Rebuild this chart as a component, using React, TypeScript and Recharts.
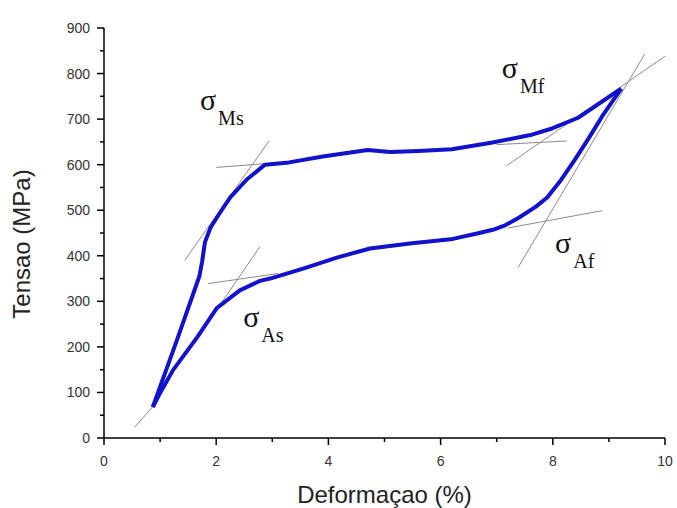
import React from 'react';
import { ComposedChart, Line, Scatter, XAxis, YAxis } from 'recharts';

// Strain (%) vs stress (MPa) hysteresis loop
const loading = [
  { x: 0.87, y: 68 }, { x: 1.3, y: 215 }, { x: 1.7, y: 355 }, { x: 1.75, y: 388 },
  { x: 1.8, y: 430 }, { x: 1.9, y: 462 }, { x: 2.07, y: 495 }, { x: 2.25, y: 528 },
  { x: 2.55, y: 568 }, { x: 2.87, y: 600 }, { x: 3.3, y: 605 }, { x: 3.9, y: 618 },
  { x: 4.7, y: 632 }, { x: 5.1, y: 628 }, { x: 5.6, y: 630 }, { x: 6.2, y: 634 },
  { x: 6.9, y: 648 }, { x: 7.6, y: 665 }, { x: 8.0, y: 680 }, { x: 8.45, y: 703 },
  { x: 9.22, y: 767 },
];
const unloading = [
  { x: 9.22, y: 767 }, { x: 8.9, y: 710 }, { x: 8.65, y: 660 }, { x: 8.4, y: 612 },
  { x: 8.15, y: 567 }, { x: 7.9, y: 528 }, { x: 7.7, y: 508 }, { x: 7.4, y: 484 },
  { x: 7.15, y: 467 }, { x: 6.93, y: 457 }, { x: 6.65, y: 449 }, { x: 6.22, y: 437 },
  { x: 5.45, y: 427 }, { x: 4.74, y: 416 }, { x: 4.15, y: 396 }, { x: 3.55, y: 372 },
  { x: 2.96, y: 350 }, { x: 2.78, y: 345 }, { x: 2.42, y: 324 }, { x: 2.01, y: 285 },
  { x: 1.66, y: 221 }, { x: 1.23, y: 149 }, { x: 1.0, y: 99 }, { x: 0.87, y: 68 },
];

// Thin construction (tangent) lines
const tangentElastic = [{ x: 0.55, y: 24 }, { x: 0.95, y: 80 }];
const tangentMsSteep = [{ x: 1.44, y: 390 }, { x: 2.94, y: 652 }];
const tangentMsFlat = [{ x: 2.0, y: 594 }, { x: 3.4, y: 607 }];
const tangentMfFlat = [{ x: 7.0, y: 644 }, { x: 8.25, y: 652 }];
const tangentMfSteep = [{ x: 7.18, y: 598 }, { x: 10.0, y: 838 }];
const tangentAfSteep = [{ x: 7.38, y: 374 }, { x: 9.64, y: 843 }];
const tangentAfFlat = [{ x: 7.2, y: 461 }, { x: 8.88, y: 499 }];
const tangentAsFlat = [{ x: 1.86, y: 339 }, { x: 3.1, y: 361 }];
const tangentAsSteep = [{ x: 2.1, y: 298 }, { x: 2.78, y: 420 }];

const tangents = [
  tangentElastic, tangentMsSteep, tangentMsFlat, tangentMfFlat, tangentMfSteep,
  tangentAfSteep, tangentAfFlat, tangentAsFlat, tangentAsSteep,
];

// Sigma annotations (anchor = left baseline of σ)
const annotations = [
  { x: 1.71, y: 720, sub: 'Ms' },
  { x: 7.09, y: 790, sub: 'Mf' },
  { x: 2.48, y: 244, sub: 'As' },
  { x: 8.04, y: 406, sub: 'Af' },
];

const xTicks = [0, 1, 2, 3, 4, 5, 6, 7, 8, 9, 10];
const yTicks = [0, 50, 100, 150, 200, 250, 300, 350, 400, 450, 500, 550, 600, 650, 700, 750, 800, 850, 900];

const SANS = '"Liberation Sans", Arial, sans-serif';
const SERIF = '"Liberation Serif", "Times New Roman", serif';

const XTick = (props: any) => {
  const { x, y, payload } = props;
  const major = payload.value % 2 === 0;
  return (
    <g>
      <line x1={x} x2={x} y1={y} y2={y + (major ? 7 : 4)} stroke="#000" strokeWidth={1.5} />
      {major && (
        <text x={x} y={y + 28} textAnchor="middle" fontSize={14} fontFamily={SANS} fill="#333">
          {payload.value}
        </text>
      )}
    </g>
  );
};

const YTick = (props: any) => {
  const { x, y, payload } = props;
  const major = payload.value % 100 === 0;
  return (
    <g>
      <line x1={x - (major ? 7 : 4)} x2={x} y1={y} y2={y} stroke="#000" strokeWidth={1.5} />
      {major && (
        <text x={x - 14} y={y + 5} textAnchor="end" fontSize={14} fontFamily={SANS} fill="#333">
          {payload.value}
        </text>
      )}
    </g>
  );
};

const SigmaShape = (props: any) => {
  const { cx, cy, payload } = props;
  return (
    <text x={cx} y={cy} fontFamily={SERIF} fill="#111">
      <tspan fontSize={30}>σ</tspan>
      <tspan fontSize={20} dx={2} dy={15}>{payload.sub}</tspan>
    </text>
  );
};

const XTitle = (props: any) => {
  const vb = props.viewBox || {};
  return (
    <text x={vb.x + vb.width / 2} y={vb.y + 65} textAnchor="middle" fontSize={24} fontFamily={SANS} fill="#222">
      Deformaçao (%)
    </text>
  );
};

const YTitle = (props: any) => {
  const vb = props.viewBox || {};
  const cx = vb.x + 30;
  const cy = vb.y + vb.height / 2 + 11;
  return (
    <text x={cx} y={cy} transform={`rotate(-90, ${cx}, ${cy})`} textAnchor="middle" fontSize={24} fontFamily={SANS} fill="#222">
      Tensao (MPa)
    </text>
  );
};

export default function App() {
  return (
    <div style={{ position: 'absolute', left: 0, top: 0, background: '#fff' }}>
      <ComposedChart width={677} height={508} margin={{ top: 28, right: 12, left: 0, bottom: 0 }}>
        <XAxis
          type="number"
          dataKey="x"
          domain={[0, 10]}
          ticks={xTicks}
          interval={0}
          allowDataOverflow
          height={70}
          tickSize={0}
          tickMargin={0}
          tickLine={false}
          axisLine={{ stroke: '#000', strokeWidth: 1.5 }}
          tick={<XTick />}
          label={<XTitle />}
        />
        <YAxis
          type="number"
          dataKey="y"
          domain={[0, 900]}
          ticks={yTicks}
          interval={0}
          allowDataOverflow
          width={104}
          tickSize={0}
          tickMargin={0}
          tickLine={false}
          axisLine={{ stroke: '#000', strokeWidth: 1.5 }}
          tick={<YTick />}
          label={<YTitle />}
        />
        {tangents.map((seg, i) => (
          <Line
            key={'t' + i}
            data={seg}
            dataKey="y"
            type="linear"
            stroke="#8a8a8a"
            strokeWidth={1}
            dot={false}
            activeDot={false}
            isAnimationActive={false}
          />
        ))}
        <Line data={loading} dataKey="y" type="linear" stroke="#1212cc" strokeWidth={4} strokeLinejoin="round" dot={false} activeDot={false} isAnimationActive={false} />
        <Line data={unloading} dataKey="y" type="linear" stroke="#1212cc" strokeWidth={4} strokeLinejoin="round" dot={false} activeDot={false} isAnimationActive={false} />
        <Scatter data={annotations} dataKey="y" shape={<SigmaShape />} isAnimationActive={false} />
      </ComposedChart>
    </div>
  );
}
